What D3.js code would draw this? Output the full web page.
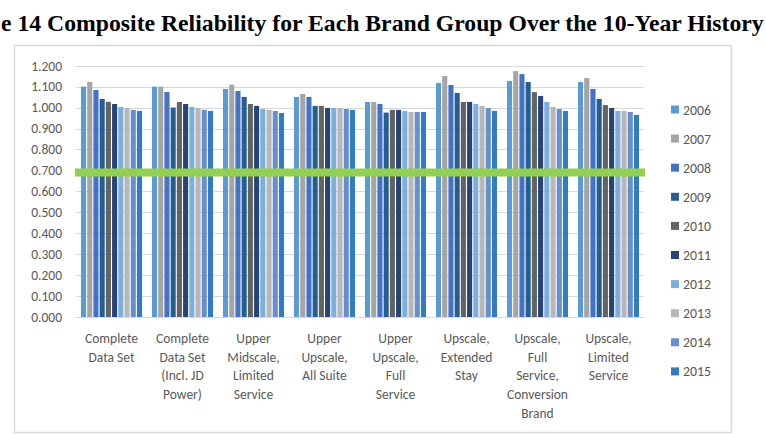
<!DOCTYPE html>
<html>
<head>
<meta charset="utf-8">
<script src="https://cdn.jsdelivr.net/npm/d3@7"></script>
<style>
  html, body { margin: 0; padding: 0; background: #fff; }
  svg { display: block; }
</style>
</head>
<body>
<svg id="chart" width="766" height="434"></svg>
<script>
const categories = [
  "Complete Data Set",
  "Complete Data Set (Incl. JD Power)",
  "Upper Midscale, Limited Service",
  "Upper Upscale, All Suite",
  "Upper Upscale, Full Service",
  "Upscale, Extended Stay",
  "Upscale, Full Service, Conversion Brand",
  "Upscale, Limited Service"
];
const categoryLines = [
  ["Complete", "Data Set"],
  ["Complete", "Data Set", "(Incl. JD", "Power)"],
  ["Upper", "Midscale,", "Limited", "Service"],
  ["Upper", "Upscale,", "All Suite"],
  ["Upper", "Upscale,", "Full", "Service"],
  ["Upscale,", "Extended", "Stay"],
  ["Upscale,", "Full", "Service,", "Conversion", "Brand"],
  ["Upscale,", "Limited", "Service"]
];
const years = ["2006","2007","2008","2009","2010","2011","2012","2013","2014","2015"];
const yTicks = [0, 0.1, 0.2, 0.3, 0.4, 0.5, 0.6, 0.7, 0.8, 0.9, 1.0, 1.1, 1.2];
const threshold = 0.69;

// values per year, across the 8 categories
const v2006 = [1.100, 1.100, 1.089, 1.051, 1.027, 1.117, 1.127, 1.122];
const v2007 = [1.122, 1.100, 1.109, 1.065, 1.027, 1.151, 1.174, 1.141];
const v2008 = [1.084, 1.074, 1.079, 1.051, 1.017, 1.108, 1.160, 1.089];
const v2009 = [1.041, 1.000, 1.051, 1.008, 0.976, 1.070, 1.122, 1.041];
const v2010 = [1.027, 1.027, 1.017, 1.008, 0.989, 1.027, 1.074, 1.012];
const v2011 = [1.017, 1.017, 1.008, 0.998, 0.989, 1.027, 1.055, 0.998];
const v2012 = [1.003, 1.003, 0.993, 0.998, 0.984, 1.017, 1.027, 0.984];
const v2013 = [0.998, 0.998, 0.989, 0.998, 0.979, 1.008, 1.003, 0.984];
const v2014 = [0.989, 0.989, 0.984, 0.993, 0.979, 0.998, 0.993, 0.979];
const v2015 = [0.984, 0.984, 0.974, 0.989, 0.979, 0.984, 0.984, 0.965];
const seriesValues = [v2006, v2007, v2008, v2009, v2010, v2011, v2012, v2013, v2014, v2015];
const colors = ["#5B9BD5","#A5A5A5","#4472C4","#255E91","#636363","#264478","#7CAFDD","#B7B7B7","#698ED0","#327DC2"];

const svg = d3.select("#chart");
const font = "Carlito, Calibri, Lato, sans-serif";

// chart border
svg.append("rect")
  .attr("x", 14.5).attr("y", 45.5)
  .attr("width", 717).attr("height", 387)
  .attr("fill", "#fff").attr("stroke", "#d9d9d9").attr("stroke-width", 1.5);

// title
const title = svg.append("text")
  .attr("x", 1).attr("y", 31)
  .attr("font-family", "'Liberation Serif', 'Times New Roman', serif")
  .attr("font-weight", "bold")
  .attr("font-size", 20)
  .attr("fill", "#000")
  .text("e 14 Composite Reliability for Each Brand Group Over the 10-Year History");
const tw = title.node().getComputedTextLength();
title.attr("font-size", 20 * 763 / tw);

const x0 = d3.scaleBand().domain(categories).range([76, 644]).paddingInner(0.14).paddingOuter(0.07);
const x1 = d3.scaleBand().domain(years).range([0, x0.bandwidth()]).paddingInner(0.18);
const y = d3.scaleLinear().domain([0, 1.2]).range([317, 65.7]);

// gridlines
svg.append("g").selectAll("line").data(yTicks).join("line")
  .attr("x1", 76).attr("x2", 644)
  .attr("y1", d => Math.round(y(d)) + 0.5).attr("y2", d => Math.round(y(d)) + 0.5)
  .attr("stroke", "#d9d9d9").attr("stroke-width", 1);

// y axis labels
const yAxis = d3.axisLeft(y).tickValues(yTicks).tickFormat(d3.format(".3f")).tickSize(0).tickPadding(0);
const ya = svg.append("g").attr("transform", "translate(62,0)").call(yAxis);
ya.select(".domain").remove();
ya.selectAll("text").attr("font-family", font).attr("font-size", 13.5).attr("fill", "#595959");

// bars
const groups = svg.append("g").selectAll("g").data(categories).join("g")
  .attr("transform", d => `translate(${x0(d)},0)`);
groups.selectAll("rect")
  .data((d, i) => years.map((yr, s) => ({ yr, s, v: seriesValues[s][i] })))
  .join("rect")
  .attr("x", d => x1(d.yr))
  .attr("width", x1.bandwidth())
  .attr("y", d => y(d.v))
  .attr("height", d => y(0) - y(d.v))
  .attr("fill", d => colors[d.s]);

// threshold line
svg.append("line")
  .attr("x1", 75).attr("x2", 645)
  .attr("y1", y(threshold)).attr("y2", y(threshold))
  .attr("stroke", "#92D050").attr("stroke-width", 8);

// category labels
const catG = svg.append("g").selectAll("text").data(categories).join("text")
  .attr("x", d => x0(d) + x0.bandwidth() / 2)
  .attr("y", 343)
  .attr("text-anchor", "middle")
  .attr("font-family", font).attr("font-size", 13.5).attr("fill", "#595959");
catG.each(function(d, i) {
  d3.select(this).selectAll("tspan").data(categoryLines[i]).join("tspan")
    .attr("x", x0(d) + x0.bandwidth() / 2)
    .attr("dy", (t, j) => j === 0 ? 0 : 18.7)
    .text(t => t);
});

// legend
const leg = svg.append("g").selectAll("g").data(years).join("g")
  .attr("transform", (d, i) => `translate(671,${109.5 + i * 29.1})`);
leg.append("rect").attr("x", 0).attr("y", -4).attr("width", 8).attr("height", 8)
  .attr("fill", (d, i) => colors[i]);
leg.append("text").attr("x", 12).attr("y", 5)
  .attr("font-family", font).attr("font-size", 13.8).attr("fill", "#595959")
  .text(d => d);
</script>
</body>
</html>
